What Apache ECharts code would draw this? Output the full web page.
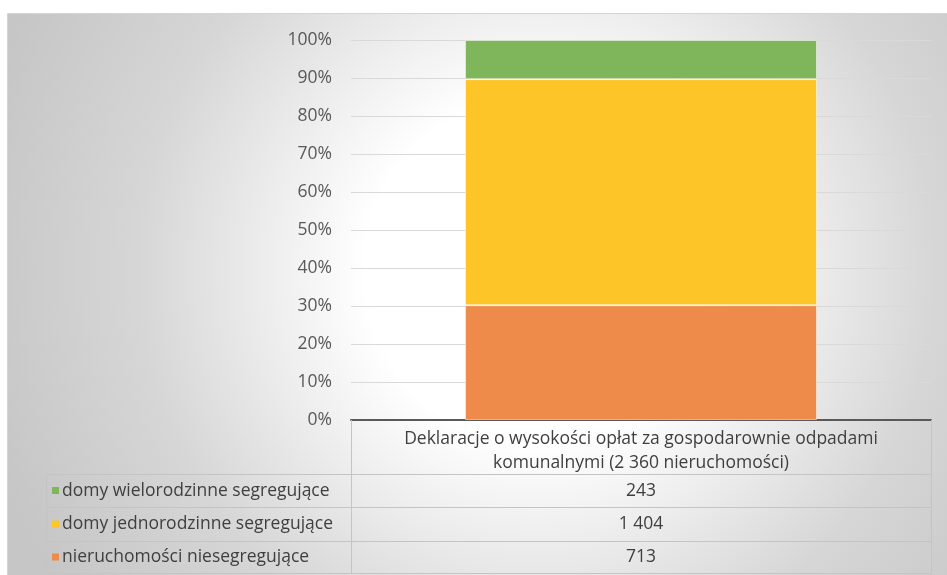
<!DOCTYPE html>
<html>
<head>
<meta charset="utf-8">
<title>Deklaracje</title>
<script src="https://cdn.jsdelivr.net/npm/echarts@6/dist/echarts.min.js"></script>
<style>
  html, body { margin: 0; padding: 0; background: #fff; }
  #chart { width: 947px; height: 575px; }
</style>
</head>
<body>
<div id="chart"></div>
<script>
(function(){
    // dane
    var categories = ['Deklaracje o wysokości opłat za gospodarownie odpadami\nkomunalnymi (2 360 nieruchomości)'];
    var seriesNames = ['nieruchomości niesegregujące', 'domy jednorodzinne segregujące', 'domy wielorodzinne segregujące'];
    var counts = [713, 1404, 243];
    var countLabels = ['713', '1 404', '243'];
    var colors = ['#ee8b4b', '#fdc527', '#7fb65c'];

    var chart = echarts.init(document.getElementById('chart'));

    var total = counts.reduce(function(a, b){ return a + b; }, 0);

    // uklad tabeli
    var gridLeft = 351, gridRight = 931, gridTop = 40, axisY = 420;
    var tableLeft = 46;
    var headerBottom = 474;
    var rowH = [33, 34, 32];
    var font = '"Open Sans", "DejaVu Sans", sans-serif';
    var fontSize = 17.5;
    var lineColor = '#c4c4c4';

    var series = seriesNames.map(function(name, i){
        return {
            name: name,
            type: 'bar',
            stack: 'all',
            barWidth: 352,
            itemStyle: {
                color: colors[i],
                borderColor: 'rgba(255,255,255,0.5)',
                borderWidth: 1
            },
            data: [counts[i] / total * 100]
        };
    });

    var graphic = [];
    // tlo z gradientem
    graphic.push({
        type: 'rect',
        z: -10,
        shape: { x: 7.5, y: 13.5, width: 945, height: 570 },
        style: {
            fill: new echarts.graphic.RadialGradient(0.56, 0.45, 1, [
                { offset: 0, color: '#ffffff' },
                { offset: 0.3, color: '#ffffff' },
                { offset: 0.7, color: '#d6d6d6' },
                { offset: 1, color: '#c6c6c6' }
            ]),
            stroke: '#d4d4d4',
            lineWidth: 1
        }
    });

    function hline(x1, x2, y){
        graphic.push({ type: 'line', z: 5, shape: { x1: x1, y1: y, x2: x2, y2: y }, style: { stroke: lineColor, lineWidth: 1 } });
    }
    function vline(x, y1, y2){
        graphic.push({ type: 'line', z: 5, shape: { x1: x, y1: y1, x2: x, y2: y2 }, style: { stroke: lineColor, lineWidth: 1 } });
    }

    var rowsTop = [headerBottom];
    for (var r = 0; r < rowH.length; r++) rowsTop.push(rowsTop[r] + rowH[r]);
    var tableBottom = rowsTop[rowsTop.length - 1];

    rowsTop.forEach(function(y){ hline(tableLeft + 0.5, gridRight + 0.5, y + 0.5); });
    vline(tableLeft + 0.5, headerBottom + 0.5, tableBottom + 0.5);
    vline(gridLeft + 0.5, axisY, tableBottom + 0.5);
    vline(gridRight + 0.5, axisY, tableBottom + 0.5);

    // wiersze od gory: odwrotna kolejnosc serii
    for (var k = 0; k < seriesNames.length; k++) {
        var idx = seriesNames.length - 1 - k;
        var cy = rowsTop[k] + rowH[k] / 2 + 0.5;
        graphic.push({
            type: 'rect', z: 6,
            shape: { x: 52, y: cy - 4, width: 7, height: 7 },
            style: { fill: colors[idx] }
        });
        graphic.push({
            type: 'text', z: 6,
            style: {
                x: 62, y: cy, text: seriesNames[idx],
                fill: '#3f3f3f', font: fontSize + 'px ' + font,
                verticalAlign: 'middle', align: 'left'
            }
        });
        graphic.push({
            type: 'text', z: 6,
            style: {
                x: (gridLeft + gridRight) / 2, y: cy, text: countLabels[idx],
                fill: '#3f3f3f', font: fontSize + 'px ' + font,
                verticalAlign: 'middle', align: 'center'
            }
        });
    }

    var option = {
        backgroundColor: '#ffffff',
        animation: false,
        grid: {
            left: gridLeft,
            right: 947 - gridRight,
            top: gridTop,
            bottom: 575 - axisY
        },
        xAxis: {
            type: 'category',
            data: categories,
            axisLine: { lineStyle: { color: '#595959', width: 2 } },
            axisTick: { show: false },
            axisLabel: {
                color: '#3f3f3f',
                fontFamily: 'Open Sans',
                fontSize: fontSize,
                lineHeight: 24,
                margin: 7,
                interval: 0
            }
        },
        yAxis: {
            type: 'value',
            min: 0,
            max: 100,
            interval: 10,
            axisLine: { show: false },
            axisTick: { show: false },
            axisLabel: {
                formatter: '{value}%',
                color: '#595959',
                fontFamily: 'Open Sans',
                fontSize: fontSize,
                margin: 19
            },
            splitLine: { lineStyle: { color: '#d9d9d9', width: 1 } }
        },
        series: series,
        graphic: graphic
    };

    chart.setOption(option);
})();
</script>
</body>
</html>
